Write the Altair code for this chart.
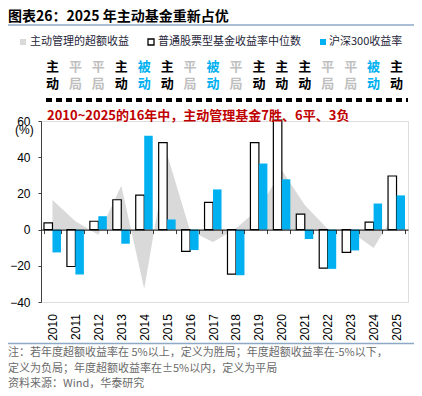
import altair as alt
import pandas as pd

years = [str(y) for y in range(2010, 2026)]
median_fund = [3.7, -20.4, 4.6, 16.5, 19.1, 48.0, -12.0, 15.0, -24.6, 48.1, 60.5, 8.5, -21.3, -12.6, 4.1, 29.6]
hs300 = [-12.6, -24.8, 7.4, -7.8, 51.9, 5.6, -11.3, 22.2, -25.2, 36.5, 27.8, -5.2, -21.7, -11.5, 14.4, 18.9]
excess = [16.3, 4.6, -2.8, 24.2, -32.8, 41.5, -0.7, -6.8, 0.6, 11.6, 32.7, 13.6, 0.4, -1.1, -10.2, 10.7]
verdict = ["主动", "平局", "平局", "主动", "被动", "主动", "平局", "被动",
           "平局", "主动", "主动", "主动", "平局", "平局", "被动", "主动"]
y_ticks = [-40, -20, 0, 20, 40, 60]

S_MED = "普通股票型基金收益率中位数"
S_HS = "沪深300收益率"
S_EX = "主动管理的超额收益"

BLUE = "#00b0f0"
GREY = "#d9d9d9"
CJK = "Noto Sans CJK SC"
LAT = "Liberation Sans"

W, H = 367, 181

df_ex = pd.DataFrame({"year": years, "v": excess})
df_med = pd.DataFrame({"year": years, "v": median_fund, "s": S_MED})
df_hs = pd.DataFrame({"year": years, "v": hs300, "s": S_HS})
vcolor = {"主动": "#000000", "平局": "#bfbfbf", "被动": BLUE}
df_lab = pd.DataFrame({
    "year": years,
    "c1": [v[0] for v in verdict],
    "c2": [v[1] for v in verdict],
    "col": [vcolor[v] for v in verdict],
})

xscale = alt.Scale(domain=years, paddingInner=0.26, paddingOuter=0.13)
yscale = alt.Scale(domain=[-40, 60], nice=False, zero=False)
offscale = alt.Scale(domain=[S_MED, S_HS], paddingInner=0, paddingOuter=0)

xaxis = alt.Axis(orient="bottom", offset=-72.4, labelAngle=-90, labelPadding=80,
                 domainColor="#000000", domainWidth=1, tickColor="#404040",
                 tickBand="extent", tickSize=4, labelFont=LAT, labelFontSize=12,
                 labelColor="#000000", title=None, zindex=1, grid=False,
                 labelOverlap=False)
yaxis = alt.Axis(values=y_ticks, tickCount=6, tickSize=3, labelPadding=8,
                 domainColor="#404040", tickColor="#404040", labelFont=LAT,
                 labelFontSize=12, labelColor="#000000", title=None, grid=False,
                 labelOverlap=False, labelFlush=False, labelBound=False)

X = alt.X("year:N", scale=xscale, axis=xaxis, sort=years)
Y = alt.Y("v:Q", scale=yscale, axis=yaxis)

area = alt.Chart(df_ex).mark_area(color=GREY, opacity=1).encode(x=X, y=Y)

bar_med = alt.Chart(df_med).mark_bar(fill="white", stroke="#000000", strokeWidth=1.2).encode(
    x=X, xOffset=alt.XOffset("s:N", scale=offscale), y=Y)
bar_hs = alt.Chart(df_hs).mark_bar(fill=BLUE).encode(
    x=X, xOffset=alt.XOffset("s:N", scale=offscale), y=Y)

lab1 = alt.Chart(df_lab).mark_text(font=CJK, fontSize=13, fontWeight="bold", baseline="middle").encode(
    x=X, y=alt.value(-54), text="c1:N", color=alt.Color("col:N", scale=None))
lab2 = alt.Chart(df_lab).mark_text(font=CJK, fontSize=13, fontWeight="bold", baseline="middle").encode(
    x=X, y=alt.value(-37), text="c2:N", color=alt.Color("col:N", scale=None))

dash = alt.Chart(df_ex).mark_rule(color="#000000", strokeWidth=3, strokeDash=[6, 4]).encode(
    x=alt.value(5), x2=alt.value(W), y=alt.value(-21))

def txt(s, x, y, size=11, color="#000000", weight="normal", font=CJK, align="left"):
    return alt.Chart(df_ex.head(1)).mark_text(
        text=s, font=font, fontSize=size, fontWeight=weight, color=color,
        align=align, baseline="middle").encode(x=alt.value(x), y=alt.value(y))

def hline(x1, x2, y, color, width):
    return alt.Chart(df_ex.head(1)).mark_rule(color=color, strokeWidth=width).encode(
        x=alt.value(x1), x2=alt.value(x2), y=alt.value(y))

def sq(x, y, fill, stroke=None):
    kw = dict(shape="square", size=36, fill=fill, opacity=1, filled=True)
    if stroke:
        kw.update(stroke=stroke, strokeWidth=1.3)
    return alt.Chart(df_ex.head(1)).mark_point(**kw).encode(x=alt.value(x), y=alt.value(y))

title = txt("图表26：2025 年主动基金重新占优", -33, 17 - 121, size=14, weight="bold")
title_line = hline(-33, W + 6, 25 - 121, "#8ea9c8", 1.5)
leg = [
    sq(23 - 41, 42 - 121, GREY),
    txt(S_EX, 30 - 41, 42 - 121, size=11, color="#1f1f3a"),
    sq(151 - 41, 42 - 121, "white", "#000000"),
    txt(S_MED, 158 - 41, 42 - 121, size=11, color="#1f1f3a"),
    sq(323 - 41, 42 - 121, BLUE),
    txt(S_HS, 329 - 41, 42 - 121, size=11, color="#1f1f3a"),
]
red = txt("2010~2025的16年中，主动管理基金7胜、6平、3负", 6, 116 - 121, size=13,
          color="#c00000", weight="bold")
pct = txt("(%)", -26, 130 - 121, size=12, font=LAT)
foot_line = hline(-33, W + 6, 343.5 - 121, "#8ea9c8", 1.5)
FG = "#6b6b6b"
f1 = txt("注：若年度超额收益率在 5%以上，定义为胜局；年度超额收益率在-5%以下，", -33, 353 - 121, size=11, color=FG)
f2 = txt("定义为负局；年度超额收益率在±5%以内，定义为平局", -33, 369 - 121, size=11, color=FG)
f3 = txt("资料来源：Wind，华泰研究", -33, 384 - 121, size=11, color=FG)

chart = alt.layer(
    area, bar_med, bar_hs, lab1, lab2, dash, title, title_line, *leg, red, pct,
    foot_line, f1, f2, f3
).properties(
    width=W, height=H,
    autosize=alt.AutoSizeParams(type="none"),
    padding={"left": 33, "top": 113, "right": 6, "bottom": 88},
).configure_view(stroke=None).configure(background="white")

chart.save("out.html", embed_options={"renderer": "svg", "actions": False})
